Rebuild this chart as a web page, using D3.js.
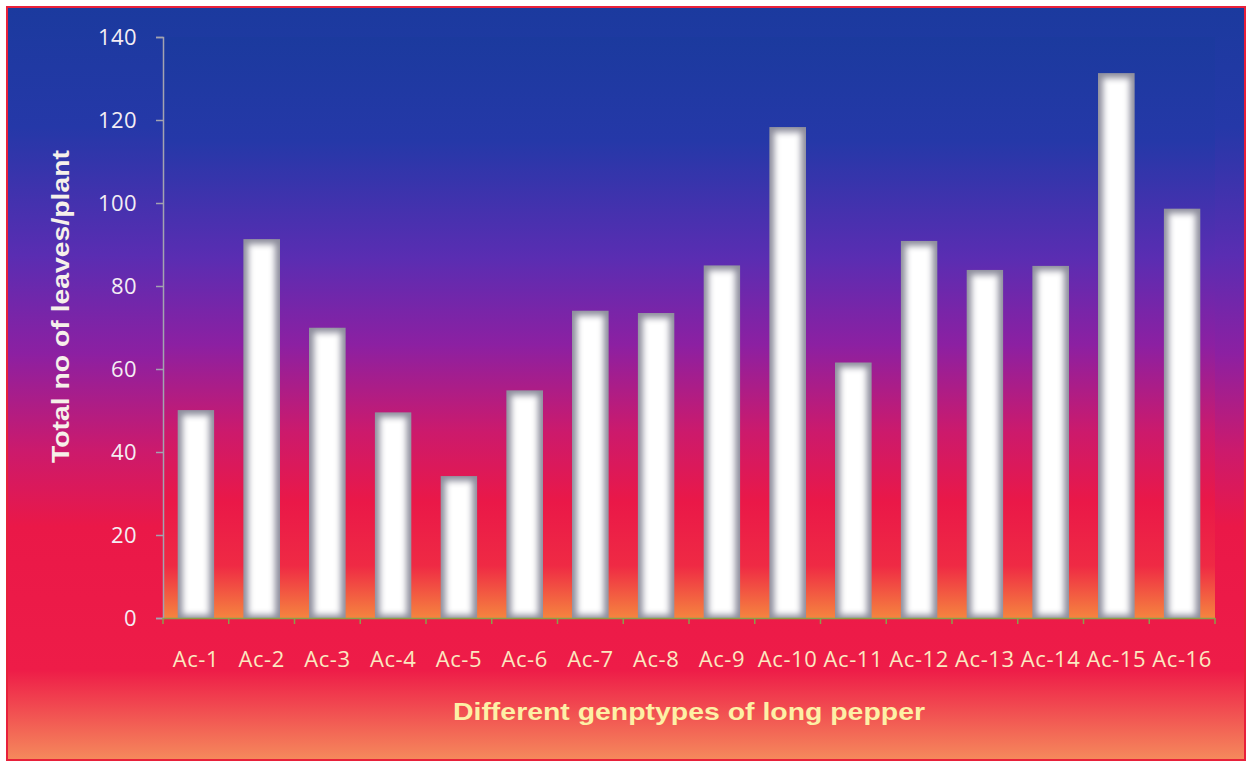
<!DOCTYPE html>
<html>
<head>
<meta charset="utf-8">
<script src="https://cdn.jsdelivr.net/npm/d3@7/dist/d3.min.js"></script>
<style>
  body { margin: 0; background: #fff; }
</style>
</head>
<body>
<div id="chart"></div>
<script>
const categories = ['Ac-1', 'Ac-2', 'Ac-3', 'Ac-4', 'Ac-5', 'Ac-6', 'Ac-7', 'Ac-8',
  'Ac-9', 'Ac-10', 'Ac-11', 'Ac-12', 'Ac-13', 'Ac-14', 'Ac-15', 'Ac-16']
const leaves = [50.1, 91.3, 70.0, 49.6, 34.2, 54.9, 74.1, 73.5,
  85.0, 118.3, 61.6, 90.9, 83.9, 84.9, 131.3, 98.7]
const yTicks = [0, 20, 40, 60, 80, 100, 120, 140]

const width = 1249
const height = 763
const margin = { top: 37, right: 34, bottom: 144, left: 163 }

const svg = d3.select('#chart')
  .append('svg')
  .attr('width', width)
  .attr('height', height)

const defs = svg.append('defs')

const bgStops = [
  [0, '#1b3a9e'], [0.18, '#2538a8'], [0.38, '#5a2db2'], [0.53, '#8c20a2'],
  [0.68, '#cc1a6c'], [0.8, '#ea1848'], [0.91, '#ef2a44'], [1, '#f5843f'],
]
const outerStops = [
  [0, '#1b3a9e'], [0.16, '#2538a8'], [0.33, '#5a2db2'], [0.46, '#8c20a2'],
  [0.59, '#cc1a6c'], [0.69, '#ea1848'], [0.88, '#ee1c48'], [1, '#f58a5c'],
]

const grad = (id, stops) => {
  const g = defs.append('linearGradient')
    .attr('id', id)
    .attr('x1', 0).attr('y1', 0).attr('x2', 0).attr('y2', 1)
  g.selectAll('stop')
    .data(stops)
    .enter()
    .append('stop')
    .attr('offset', (d) => d[0])
    .attr('stop-color', (d) => d[1])
}
grad('outer-bg', outerStops)
grad('plot-bg', bgStops)

// soft white core for the bars
const blur = defs.append('filter')
  .attr('id', 'soft')
  .attr('x', '-50%').attr('y', '-50%').attr('width', '200%').attr('height', '200%')
blur.append('feGaussianBlur').attr('stdDeviation', 3.4)

// chart area
svg.append('rect')
  .attr('x', 7).attr('y', 7)
  .attr('width', 1238).attr('height', 753)
  .attr('fill', 'url(#outer-bg)')
  .attr('stroke', '#e8203a')
  .attr('stroke-width', 2)

const innerW = width - margin.left - margin.right
const innerH = height - margin.top - margin.bottom - 1

const g = svg.append('g')
  .attr('transform', `translate(${margin.left},${margin.top})`)

g.append('rect')
  .attr('width', innerW)
  .attr('height', innerH)
  .attr('fill', 'url(#plot-bg)')

const x = d3.scaleBand()
  .domain(categories)
  .range([0, innerW])
  .paddingInner(0.44)
  .paddingOuter(0.22)

const y = d3.scaleLinear()
  .domain([0, 140])
  .range([innerH, 0])

const bar = g.selectAll('.bar')
  .data(categories.map((c, i) => ({ name: c, value: leaves[i] })))
  .enter()
  .append('g')
  .attr('class', 'bar')

bar.each((d, i, arr) => {
  const el = d3.select(arr[i])
  const bx = x(d.name)
  const by = y(d.value)
  const bw = x.bandwidth()
  const bh = innerH - by
  el.append('clipPath')
    .attr('id', `clip-${i}`)
    .append('rect')
    .attr('x', bx).attr('y', by).attr('width', bw).attr('height', bh)
  const inner = el.append('g').attr('clip-path', `url(#clip-${i})`)
  inner.append('rect')
    .attr('x', bx).attr('y', by).attr('width', bw).attr('height', bh)
    .attr('fill', '#8d8d9c')
  inner.append('rect')
    .attr('x', bx + 5).attr('y', by + 5)
    .attr('width', bw - 10).attr('height', Math.max(0, bh - 8))
    .attr('fill', '#ffffff')
    .attr('filter', 'url(#soft)')
})

const font = '"Open Sans", sans-serif'

const yAxis = g.append('g')
  .call(d3.axisLeft(y).tickValues(yTicks).tickSize(7).tickPadding(19))
yAxis.select('.domain').attr('stroke', '#a3a3b0').attr('stroke-width', 1.5)
yAxis.selectAll('.tick line').attr('stroke', '#a3a3b0').attr('stroke-width', 1.5)
yAxis.selectAll('.tick text')
  .attr('fill', '#f4eef4')
  .style('font-family', font)
  .style('font-size', '22px')
  .style('letter-spacing', '0.4px')

const xAxis = g.append('g')
  .attr('transform', `translate(0,${innerH})`)
  .call(d3.axisBottom(x).tickSize(0).tickPadding(33))
xAxis.select('.domain').attr('stroke', '#8aa04a').attr('stroke-width', 1.5)
xAxis.selectAll('.tick text')
  .attr('fill', '#fbe8c0')
  .style('font-family', font)
  .style('font-size', '22px')
  .style('letter-spacing', '0.6px')

// tick marks between categories
const bounds = d3.range(categories.length + 1).map((i) => i * innerW / categories.length)
xAxis.selectAll('.sep')
  .data(bounds)
  .enter()
  .append('line')
  .attr('class', 'sep')
  .attr('x1', (d) => d).attr('x2', (d) => d)
  .attr('y1', 0).attr('y2', 6)
  .attr('stroke', '#8aa04a')
  .attr('stroke-width', 1.5)

svg.append('text')
  .attr('transform', 'translate(69,306.5) rotate(-90)')
  .attr('text-anchor', 'middle')
  .attr('fill', '#f6f0ea')
  .attr('textLength', 313)
  .attr('lengthAdjust', 'spacingAndGlyphs')
  .style('font-family', '"Liberation Sans", Arial, sans-serif')
  .style('font-weight', 'bold')
  .style('font-size', '23.5px')
  .text('Total no of leaves/plant')

svg.append('text')
  .attr('x', 689)
  .attr('y', 720)
  .attr('text-anchor', 'middle')
  .attr('fill', '#fdf0a6')
  .attr('textLength', 472)
  .attr('lengthAdjust', 'spacingAndGlyphs')
  .style('font-family', '"Liberation Sans", Arial, sans-serif')
  .style('font-weight', 'bold')
  .style('font-size', '23.5px')
  .text('Different genptypes of long pepper')
</script>
</body>
</html>
